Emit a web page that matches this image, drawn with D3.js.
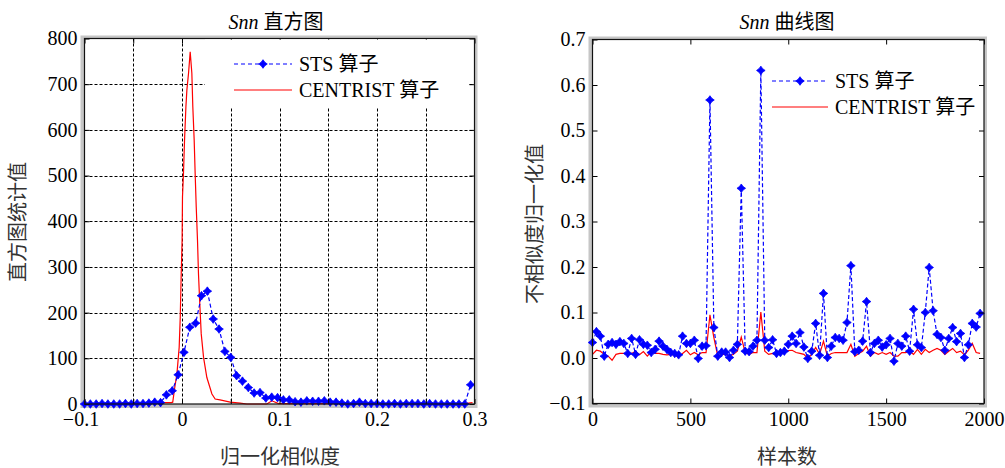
<!DOCTYPE html>
<html>
<head>
<meta charset="utf-8">
<script src="https://cdn.jsdelivr.net/npm/d3@7"></script>
<style>
  body { margin: 0; background: #fff; }
  text { font-family: "Liberation Serif", "Noto Sans CJK SC", serif; }
</style>
</head>
<body>
<div id="chart"></div>
<script>
// left panel: histogram of Snn values
var histBins = [-0.1, -0.094, -0.088, -0.082, -0.076, -0.07, -0.064, -0.058, -0.052, -0.046,
    -0.04, -0.034, -0.028, -0.022, -0.016, -0.01, -0.004, 0.002, 0.008, 0.014,
    0.02, 0.026, 0.032, 0.038, 0.044, 0.05, 0.056, 0.062, 0.068, 0.074,
    0.08, 0.086, 0.092, 0.098, 0.104, 0.11, 0.116, 0.122, 0.128, 0.134,
    0.14, 0.146, 0.152, 0.158, 0.164, 0.17, 0.176, 0.182, 0.188, 0.194,
    0.2, 0.206, 0.212, 0.218, 0.224, 0.23, 0.236, 0.242, 0.248, 0.254,
    0.26, 0.266, 0.272, 0.278, 0.284, 0.29, 0.296];
var stsCounts = [0, 0, 0, 1, 0, 0, 0, 1, 0, 1,
    1, 2, 4, 3, 20, 29, 64, 113, 168, 177,
    237, 247, 186, 164, 115, 102, 62, 50, 36, 24,
    25, 13, 15, 14, 9, 9, 5, 4, 7, 6,
    6, 7, 4, 4, 2, 0, 1, 4, 1, 1,
    1, 0, 0, 1, 0, 1, 1, 1, 0, 1,
    0, 0, 0, 0, 0, 0, 42];
var centristSim = [-0.1, -0.08, -0.06, -0.04, -0.02, -0.011, -0.0095, -0.0075, -0.0052, -0.0029,
    -0.0018, -0.0008, 0.0001, 0.0005, 0.0015, 0.0026, 0.004, 0.005, 0.0067, 0.0084,
    0.0101, 0.0111, 0.0125, 0.0135, 0.0146, 0.0159, 0.0169, 0.0184, 0.0197, 0.0221,
    0.0255, 0.0307, 0.034, 0.039, 0.0494, 0.0597, 0.0666, 0.087, 0.0922, 0.099,
    0.12, 0.15, 0.2, 0.25, 0.29, 0.298];
var centristCounts = [1, 1, 2, 2, 3, 3, 4, 35, 66, 124,
    190, 285, 358, 453, 504, 577, 650, 687, 724, 771,
    724, 650, 577, 504, 431, 358, 285, 212, 154, 102,
    58, 22, 11, 9, 4, 2, 0, 0, 7, 1,
    1, 1, 1, 1, 1, 3];

// right panel: Snn curve over samples
var sampleIdx = [0, 20, 40, 60, 80, 100, 120, 140, 160, 180,
    200, 220, 240, 260, 280, 300, 320, 340, 360, 380,
    400, 420, 440, 460, 480, 500, 520, 540, 560, 580,
    600, 620, 640, 660, 680, 700, 720, 740, 760, 780,
    800, 820, 840, 860, 880, 900, 920, 940, 960, 980,
    1000, 1020, 1040, 1060, 1080, 1100, 1120, 1140, 1160, 1180,
    1200, 1220, 1240, 1260, 1280, 1300, 1320, 1340, 1360, 1380,
    1400, 1420, 1440, 1460, 1480, 1500, 1520, 1540, 1560, 1580,
    1600, 1620, 1640, 1660, 1680, 1700, 1720, 1740, 1760, 1780,
    1800, 1820, 1840, 1860, 1880, 1900, 1920, 1940, 1960, 1980];
var stsCurve = [0.034, 0.058, 0.048, 0.004, 0.030, 0.034, 0.030, 0.036, 0.032, 0.010,
    0.043, 0.008, 0.040, 0.030, 0.028, 0.012, 0.019, 0.037, 0.026, 0.019,
    0.012, 0.010, 0.007, 0.048, 0.032, 0.032, 0.039, -0.001, 0.026, 0.027,
    0.567, 0.067, 0.004, 0.013, 0.013, 0.001, 0.017, 0.030, 0.373, 0.015,
    0.014, 0.026, 0.039, 0.632, 0.039, 0.023, 0.040, 0.010, 0.012, 0.015,
    0.030, 0.048, 0.032, 0.056, 0.024, -0.001, 0.015, 0.076, 0.006, 0.142,
    0.001, 0.026, 0.045, 0.043, 0.039, 0.078, 0.203, 0.014, 0.017, 0.037,
    0.124, 0.012, 0.032, 0.039, 0.024, 0.029, 0.043, -0.007, 0.032, 0.026,
    0.048, 0.015, 0.107, 0.029, 0.023, 0.100, 0.199, 0.104, 0.052, 0.045,
    0.017, 0.043, 0.067, 0.036, 0.054, 0.001, 0.029, 0.076, 0.068, 0.098];
var centristCurve = [0.008, 0.017, 0.015, 0.008, 0.004, -0.005, 0.008, 0.010, 0.010, 0.008,
    0.010, 0.015, 0.007, 0.014, 0.004, 0.014, 0.010, 0.010, 0.008, 0.007,
    0.008, 0.007, 0.001, 0.010, 0.017, 0.007, 0.012, 0.007, 0.012, 0.012,
    0.095, 0.045, 0.004, 0.008, 0.008, 0.004, 0.008, 0.015, 0.046, 0.012,
    0.008, 0.012, 0.012, 0.101, 0.015, 0.008, 0.010, 0.007, 0.012, 0.015,
    0.016, 0.017, 0.012, 0.010, 0.008, -0.001, 0.008, 0.023, 0.008, 0.037,
    0.004, 0.010, 0.012, 0.012, 0.012, 0.012, 0.030, 0.004, 0.010, 0.015,
    0.026, 0.004, 0.012, 0.008, 0.012, 0.008, 0.012, 0.004, 0.004, 0.012,
    0.012, 0.015, 0.008, 0.019, 0.008, 0.019, 0.012, 0.017, 0.021, 0.017,
    0.008, 0.015, 0.021, 0.012, 0.015, 0.007, 0.017, 0.032, 0.012, 0.010];

var leftXTicks = [-0.1, -0.05, 0, 0.05, 0.1, 0.15, 0.2, 0.25, 0.3];
var leftXLabels = ['\u22120.1', '', '0', '', '0.1', '', '0.2', '', '0.3'];
var leftYTicks = [0, 100, 200, 300, 400, 500, 600, 700, 800];
var rightXTicks = [0, 500, 1000, 1500, 2000];
var rightYTicks = [-0.1, 0, 0.1, 0.2, 0.3, 0.4, 0.5, 0.6, 0.7];
var legendLabels = ['STS 算子', 'CENTRIST 算子'];

var width = 1005;
var height = 468;
var BLUE = '#0000ff';
var RED = '#ff0000';

var svg = d3.select('#chart').append('svg')
    .attr('width', width)
    .attr('height', height);

var xL = d3.scaleLinear().domain([-0.1, 0.3]).range([84.5, 474.5]);
var yL = d3.scaleLinear().domain([0, 800]).range([404, 38.5]);
var xR = d3.scaleLinear().domain([0, 2000]).range([592.5, 984]);
var yR = d3.scaleLinear().domain([-0.1, 0.7]).range([403.5, 39.5]);

var drawFrame = function (x, y) {
    /* gray border with white plotting area behind the axes */
    var x0 = x.range()[0], x1 = x.range()[1];
    var y0 = y.range()[1], y1 = y.range()[0];
    svg.append('rect')
        .attr('x', x0 - 4).attr('y', y0 - 3)
        .attr('width', x1 - x0 + 7).attr('height', y1 - y0 + 7)
        .attr('fill', '#c6c6c6');
    svg.append('rect')
        .attr('x', x0).attr('y', y0)
        .attr('width', x1 - x0).attr('height', y1 - y0)
        .attr('fill', '#fff');
}

var drawAxes = function (x, y, xTicks, yTicks, xFmt, yFmt) {
    /* inward ticks on all four sides, labels on bottom and left */
    var x0 = x.range()[0], x1 = x.range()[1];
    var y0 = y.range()[1], y1 = y.range()[0];
    var style = function (g) {
        g.select('.domain').remove();
        g.attr('font-size', 20)
            .attr('font-family', '"Liberation Serif", serif')
            .attr('color', '#000');
    }
    var bottom = svg.append('g').attr('transform', 'translate(0,' + y1 + ')')
        .call(d3.axisBottom(x).tickValues(xTicks).tickSizeInner(-5).tickSizeOuter(0)
            .tickPadding(8).tickFormat(xFmt))
        .call(style);
    // negative labels sit a bit left of their tick, like the original
    bottom.selectAll('.tick text')
        .filter(function (d) { return d < 0 })
        .attr('dx', '-0.2em');
    svg.append('g').attr('transform', 'translate(0,' + y0 + ')')
        .call(d3.axisTop(x).tickValues(xTicks).tickSizeInner(-5).tickSizeOuter(0)
            .tickFormat(''))
        .call(style);
    svg.append('g').attr('transform', 'translate(' + x0 + ',0)')
        .call(d3.axisLeft(y).tickValues(yTicks).tickSizeInner(-5).tickSizeOuter(0)
            .tickPadding(7).tickFormat(yFmt))
        .call(style);
    svg.append('g').attr('transform', 'translate(' + x1 + ',0)')
        .call(d3.axisRight(y).tickValues(yTicks).tickSizeInner(-5).tickSizeOuter(0)
            .tickFormat(''))
        .call(style);
    svg.append('rect')
        .attr('x', x0).attr('y', y0)
        .attr('width', x1 - x0).attr('height', y1 - y0)
        .attr('fill', 'none')
        .attr('stroke', '#111')
        .attr('stroke-width', 1.2);
}

var starPath = 'M0,-4.3L1.8,-1.8L4.3,0L1.8,1.8L0,4.3L-1.8,1.8L-4.3,0L-1.8,-1.8Z';

var drawSeries = function (xs, ys, x, y, dashed, markers) {
    var line = d3.line()
        .x(function (d, i) { return x(xs[i]) })
        .y(function (d) { return y(d) });
    svg.append('path')
        .datum(ys)
        .attr('fill', 'none')
        .attr('stroke', dashed ? BLUE : RED)
        .attr('stroke-width', 1.2)
        .attr('stroke-dasharray', dashed ? '4,2.5' : null)
        .attr('d', line);
    if (markers) {
        svg.append('g').selectAll('path')
            .data(ys)
            .join('path')
            .attr('transform', function (d, i) { return 'translate(' + x(xs[i]) + ',' + y(d) + ')' })
            .attr('d', starPath)
            .attr('fill', BLUE)
            .attr('stroke', BLUE)
            .attr('stroke-width', 0.8);
    }
}

var drawLegend = function (lx0, lx1, ly, box) {
    /* box = [x, y, w, h] white area, lines from lx0 to lx1, rows at ly[0], ly[1] */
    svg.append('rect')
        .attr('x', box[0]).attr('y', box[1])
        .attr('width', box[2]).attr('height', box[3])
        .attr('fill', '#fff');
    svg.append('line')
        .attr('x1', lx0).attr('x2', lx1).attr('y1', ly[0]).attr('y2', ly[0])
        .attr('stroke', BLUE).attr('stroke-width', 1.2).attr('stroke-dasharray', '4,3');
    svg.append('path')
        .attr('transform', 'translate(' + ((lx0 + lx1) / 2) + ',' + ly[0] + ')')
        .attr('d', starPath)
        .attr('fill', BLUE).attr('stroke', BLUE).attr('stroke-width', 0.8);
    svg.append('line')
        .attr('x1', lx0).attr('x2', lx1).attr('y1', ly[1]).attr('y2', ly[1])
        .attr('stroke', RED).attr('stroke-width', 1.2);
    legendLabels.forEach(function (t, i) {
        svg.append('text')
            .attr('x', lx1 + 7).attr('y', ly[i])
            .attr('dy', '0.35em')
            .attr('font-size', 20)
            .attr('fill', '#000')
            .text(t);
    });
}

var drawTitle = function (cx, cy, name) {
    var t = svg.append('text')
        .attr('x', cx).attr('y', cy)
        .attr('dy', '0.35em')
        .attr('text-anchor', 'middle')
        .attr('font-size', 20)
        .attr('fill', '#000');
    t.append('tspan').attr('font-style', 'italic').text('Snn');
    t.append('tspan').text(' ' + name);
}

var drawLabel = function (cx, cy, txt, rotate) {
    svg.append('text')
        .attr('transform', 'translate(' + cx + ',' + cy + ')' + (rotate ? ' rotate(-90)' : ''))
        .attr('dy', '0.35em')
        .attr('text-anchor', 'middle')
        .attr('font-size', 20)
        .attr('fill', '#333')
        .text(txt);
}

// ---- left panel
drawFrame(xL, yL);
var grid = svg.append('g')
    .attr('stroke', '#000')
    .attr('stroke-width', 1)
    .attr('stroke-dasharray', '3,2');
grid.selectAll('.gx')
    .data(leftXTicks.slice(1, -1))
    .join('line')
    .attr('x1', function (d) { return Math.round(xL(d)) + 0.5 })
    .attr('x2', function (d) { return Math.round(xL(d)) + 0.5 })
    .attr('y1', yL.range()[1]).attr('y2', yL.range()[0]);
grid.selectAll('.gy')
    .data(leftYTicks.slice(1, -1))
    .join('line')
    .attr('y1', function (d) { return Math.round(yL(d)) + 0.5 })
    .attr('y2', function (d) { return Math.round(yL(d)) + 0.5 })
    .attr('x1', xL.range()[0]).attr('x2', xL.range()[1]);
drawSeries(centristSim, centristCounts, xL, yL, false, false);
drawSeries(histBins, stsCounts, xL, yL, true, true);
drawAxes(xL, yL, leftXTicks, leftYTicks,
    function (d, i) { return leftXLabels[i] },
    function (d) { return String(d) });
// legend box hides the grid behind it
drawLegend(234, 292, [64, 90], [205, 39.5, 264, 68.5]);
drawTitle(276, 22, '直方图');
drawLabel(280, 457, '归一化相似度', false);
drawLabel(18, 222, '直方图统计值', true);

// ---- right panel
drawFrame(xR, yR);
drawSeries(sampleIdx, centristCurve, xR, yR, false, false);
drawSeries(sampleIdx, stsCurve, xR, yR, true, true);
drawAxes(xR, yR, rightXTicks, rightYTicks,
    function (d) { return String(d) },
    function (d) { return d < 0 ? '\u2212' + Math.abs(d).toFixed(1) : d.toFixed(1) });
drawLegend(772, 828, [81, 107], [766, 64, 212, 58]);
drawTitle(787, 22, '曲线图');
drawLabel(787, 457, '样本数', false);
drawLabel(535, 224, '不相似度归一化值', true);
</script>
</body>
</html>
